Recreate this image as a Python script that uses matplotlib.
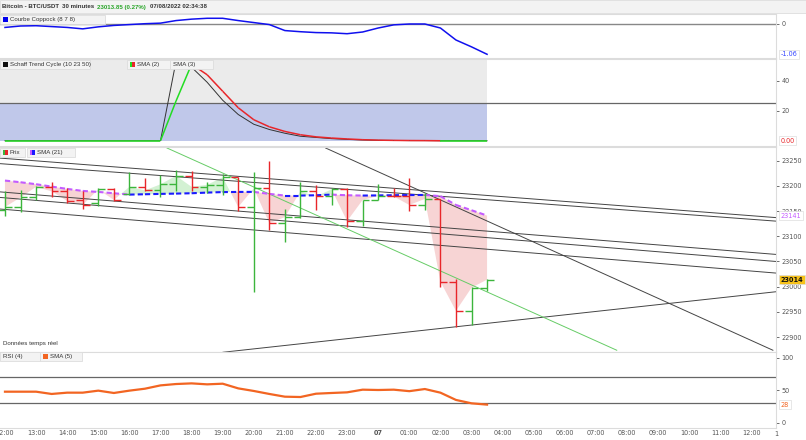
import numpy as np
import matplotlib
matplotlib.use("Agg")
import matplotlib.pyplot as plt
from matplotlib.collections import LineCollection
from matplotlib.patches import Rectangle
import matplotlib.transforms as mtransforms

W, H = 806, 440

# ---- 30 minute bars, hours counted from 06/08 12:00 ----
bar_hours = np.arange(32) * 0.5

opens  = [23152, 23158, 23177, 23198, 23189, 23172, 23166, 23193, 23183, 23198, 23191, 23203,
          23220, 23198, 23202, 23217, 23158, 23195, 23126, 23138, 23189, 23179, 23193, 23130,
          23172, 23180, 23179, 23162, 23174, 23010, 22952, 22998]
highs  = [23189, 23192, 23200, 23208, 23196, 23189, 23195, 23196, 23228, 23215, 23222, 23232,
          23230, 23208, 23223, 23218, 23228, 23249, 23154, 23207, 23202, 23196, 23196, 23172,
          23203, 23196, 23215, 23185, 23174, 23015, 23000, 23015]
lows   = [23140, 23149, 23171, 23177, 23165, 23154, 23160, 23169, 23182, 23189, 23177, 23190,
          23190, 23185, 23182, 23150, 22990, 23112, 23088, 23136, 23152, 23162, 23119, 23120,
          23172, 23177, 23151, 23152, 23000, 22921, 22924, 22992]
closes = [23158, 23177, 23198, 23189, 23170, 23162, 23193, 23172, 23198, 23191, 23203, 23220,
          23198, 23202, 23217, 23158, 23195, 23126, 23138, 23189, 23179, 23193, 23130, 23172,
          23180, 23179, 23162, 23174, 23010, 22952, 22998, 23014]
sma21  = [23210.4, 23207.1, 23203.2, 23198.5, 23193.9, 23189.9, 23187.9, 23185.3, 23182.6, 23183.3,
          23184.0, 23184.6, 23185.3, 23186.6, 23187.6, 23187.9, 23188.0, 23184.0, 23180.7, 23180.7,
          23181.3, 23182.6, 23181.3, 23180.7, 23181.0, 23181.4, 23181.7, 23181.9, 23179.5, 23162.1,
          23151.6, 23141.0]

# trend lines drawn on the price panel: (hour0, price0, hour1, price1)
trend_lines = [(-0.16, 23255, 24.79, 23137),
               (-0.16, 23244, 24.79, 23130),
               (-0.16, 23188, 24.79, 23064),
               (-0.16, 23177, 24.79, 23050),
               (-0.16, 23154, 24.79, 23027),
               (7.01, 22870, 24.79, 22990),
               (10.31, 23275, 24.69, 22874)]
green_line = (5.21, 23275, 19.67, 22874)

coppock = [-0.12, -0.07, -0.06, -0.09, -0.12, -0.17, -0.10, -0.05, -0.02, 0.01, 0.03, 0.12,
           0.17, 0.20, 0.20, 0.12, 0.05, -0.02, -0.23, -0.27, -0.30, -0.31, -0.34, -0.28,
           -0.14, -0.03, 0.0, 0.0, -0.14, -0.56, -0.80, -1.06]

stc = [0] * 11 + [53, 49, 39, 27, 17.5, 11, 7.5, 5, 3, 2.2, 1.4, 0.9, 0.5, 0.3, 0.2, 0.1, 0.1,
                  0, 0, 0, 0]
stc_sma2 = [0] * 11 + [26.5, 51, 44, 33, 22, 14, 9.3, 6.2, 4, 2.6, 1.8, 1.2, 0.7, 0.4, 0.25,
                       0.15, 0.1, 0, 0, 0, 0]

rsi_sma5 = [47.7, 47.7, 47.7, 44.2, 46.2, 46.2, 49.3, 45.7, 49.3, 52.3, 57.4, 59.5, 60.5, 59.0,
            60.0, 52.8, 48.8, 44.2, 40.0, 39.5, 44.6, 45.7, 46.7, 50.8, 50.3, 50.8, 48.5, 51.8,
            46.2, 35.0, 29.8, 27.8]

tick_hours = list(range(25))
tick_labels = ["%02d:00" % ((12 + h) % 24) for h in tick_hours]
tick_labels[12] = "07"

GREEN = "#3cb53c"
RED = "#e8262a"
BLUE_SMA = "#1a1aff"
PURPLE_SMA = "#c45cff"
FS = 4.7
SMALL = ['Liberation Sans', 'DejaVu Sans']

plt.rcParams['font.family'] = ['DejaVu Sans']

fig = plt.figure(figsize=(W / 100, H / 100), dpi=100)


def panel(top, bottom):
    ax = fig.add_axes([0, 1 - bottom / H, 776 / W, (bottom - top) / H])
    ax.set_xlim(-0.16, 24.79)
    ax.yaxis.tick_right()
    ax.tick_params(axis='y', labelsize=FS, colors='#555555', length=2, pad=2, width=0.6)
    ax.tick_params(axis='x', bottom=False, labelbottom=False)
    for s in ax.spines.values():
        s.set_color('#dcdcdc')
        s.set_linewidth(0.8)
    ax.spines['left'].set_visible(False)
    return ax


def value_box(ax, val, text, color, fc='white', bold=False):
    tr = mtransforms.blended_transform_factory(ax.transAxes, ax.transData)
    ax.text(1.006, val, text, transform=tr, fontsize=FS, color=color, va='center', ha='left',
            fontweight='bold' if bold else 'normal', clip_on=False, zorder=20,
            bbox=dict(boxstyle='square,pad=0.25', fc=fc, ec='#dddddd', lw=0.5))


def dir_segments(ax, x, y, up_color, down_color, **kw):
    pts = np.column_stack([x, y])
    segs = np.stack([pts[:-1], pts[1:]], axis=1)
    yy = np.asarray(y)
    cols = [up_color if yy[i + 1] >= yy[i] else down_color for i in range(len(yy) - 1)]
    ax.add_collection(LineCollection(segs, colors=cols, **kw))


# ---- Coppock ----
cop = panel(14, 58)
cop.set_ylim(-1.19, 0.35)
cop.axhline(0, color='#888888', lw=1)
cop.plot(bar_hours, coppock, color='#1010ee', lw=1.1)
cop.set_yticks([0])
cop.set_yticklabels(['0'])
value_box(cop, coppock[-1], "%.2f" % coppock[-1], '#3344ff')

# ---- Schaff Trend Cycle ----
st = panel(59, 146)
st.set_ylim(-3.5, 54.5)
st.fill_between([-0.16, bar_hours[-1]], 25, 60, color='#ebebeb', lw=0)
st.fill_between([-0.16, bar_hours[-1]], 0, 25, color='#c0c8ea', lw=0)
st.axhline(25, color='#666666', lw=0.9)
st.plot(bar_hours, stc, color='#333333', lw=0.7)
dir_segments(st, bar_hours, stc_sma2, '#22dd22', RED, linewidths=1.1)
st.set_yticks([20, 40])
value_box(st, 0, "0.00", RED)

# ---- Price ----
px = panel(147, 352)
px.set_ylim(22870.5, 23277)
close_arr = np.array(closes, float)
sma_arr = np.array(sma21, float)
px.fill_between(bar_hours, sma_arr, close_arr, where=close_arr >= sma_arr, interpolate=True,
                color='#c9eec9', lw=0, alpha=0.8)
px.fill_between(bar_hours, sma_arr, close_arr, where=close_arr < sma_arr, interpolate=True,
                color='#f5caca', lw=0, alpha=0.8)
for x0, y0, x1, y1 in trend_lines:
    px.plot([x0, x1], [y0, y1], color='#444444', lw=0.7)
px.plot([green_line[0], green_line[2]], [green_line[1], green_line[3]], color='#66cc66', lw=0.7)
dir_segments(px, bar_hours, sma21, BLUE_SMA, PURPLE_SMA, linewidths=1.5, linestyles=(0, (2.5, 1.5)))
for h, o, hi, lo, c in zip(bar_hours, opens, highs, lows, closes):
    col = GREEN if c >= o else RED
    px.vlines(h, lo, hi, color=col, lw=1)
    px.hlines(o, h - 0.22, h, color=col, lw=1)
    px.hlines(c, h, h + 0.22, color=col, lw=1)
px.set_yticks(np.arange(22900, 23251, 50))
value_box(px, sma21[-1], "%d" % round(sma21[-1]), PURPLE_SMA)
value_box(px, closes[-1], "%d" % closes[-1], '#111111', fc='#f7c21a', bold=True)

# ---- RSI ----
rs = panel(352, 428)
rs.set_ylim(-8.2, 108.8)
rs.axhline(70, color='#666666', lw=0.9)
rs.axhline(30, color='#666666', lw=0.9)
rs.plot(bar_hours, rsi_sma5, color='#f26522', lw=1.6)
rs.set_yticks([0, 50, 100])
value_box(rs, rsi_sma5[-1], "%d" % round(rsi_sma5[-1]), '#f26522')
rs.set_xticks(tick_hours)
rs.set_xticklabels(tick_labels)
rs.tick_params(axis='x', bottom=False, length=0, labelbottom=True, labelsize=FS, colors='#555555', pad=1.5)
rs.get_xticklabels()[12].set_fontweight('bold')
rs.text(24.72, -0.04, "1", transform=mtransforms.blended_transform_factory(rs.transData, rs.transAxes),
        fontsize=FS, color='#555555', va='top', ha='left', clip_on=False)

# ---- overlay: header, legends ----
ov = fig.add_axes([0, 0, 1, 1], zorder=10)
ov.set_xlim(0, W)
ov.set_ylim(H, 0)
ov.axis('off')
ov.add_patch(Rectangle((0, 0), W, 13.5, fc='#f3f3f3', ec='#dddddd', lw=0.6))
ov.text(2, 7, "Bitcoin - BTC/USDT", fontsize=4.4, family=SMALL, fontweight='bold', color='#333333', va='center')
ov.text(62, 7, "30 minutes", fontsize=4.4, family=SMALL, fontweight='bold', color='#333333', va='center')
ov.text(97, 7, "23013.85 (0.27%)", fontsize=4.4, family=SMALL, fontweight='bold', color='#2aa52a', va='center')
ov.text(150, 7, "07/08/2022 02:34:38", fontsize=4.4, family=SMALL, fontweight='bold', color='#333333', va='center')


def legend_box(x, y, w, text, colors=()):
    ov.add_patch(Rectangle((x, y), w, 9, fc='#f3f3f3', ec='#dddddd', lw=0.6))
    tx = x + 3
    if colors:
        for k, c in enumerate(colors):
            ov.add_patch(Rectangle((x + 2.5 + k * 2.5, y + 2), 2.5, 5, fc=c, lw=0))
        tx = x + 10
    ov.text(tx, y + 4.7, text, fontsize=4.4, family=SMALL, color='#333333', va='center')


legend_box(0, 15, 105, "Courbe Coppock (8 7 8)", ['#0000ee', '#0000ee'])
legend_box(0, 60, 90, "Schaff Trend Cycle (10 23 50)", ['#111111', '#111111'])
legend_box(127, 60, 43, "SMA (2)", ['#22dd22', RED])
legend_box(170, 60, 43, "SMA (3)")
legend_box(0, 148, 25, "Prix", [GREEN, RED])
legend_box(27, 148, 48, "SMA (21)", [PURPLE_SMA, BLUE_SMA])
legend_box(0, 352, 40, "RSI (4)")
legend_box(40, 352, 42, "SMA (5)", ['#f26522', '#f26522'])
ov.text(3, 343, "Données temps réel", fontsize=4.4, family=SMALL, color='#333333', va='center')

fig.savefig("out.png", dpi=100)
